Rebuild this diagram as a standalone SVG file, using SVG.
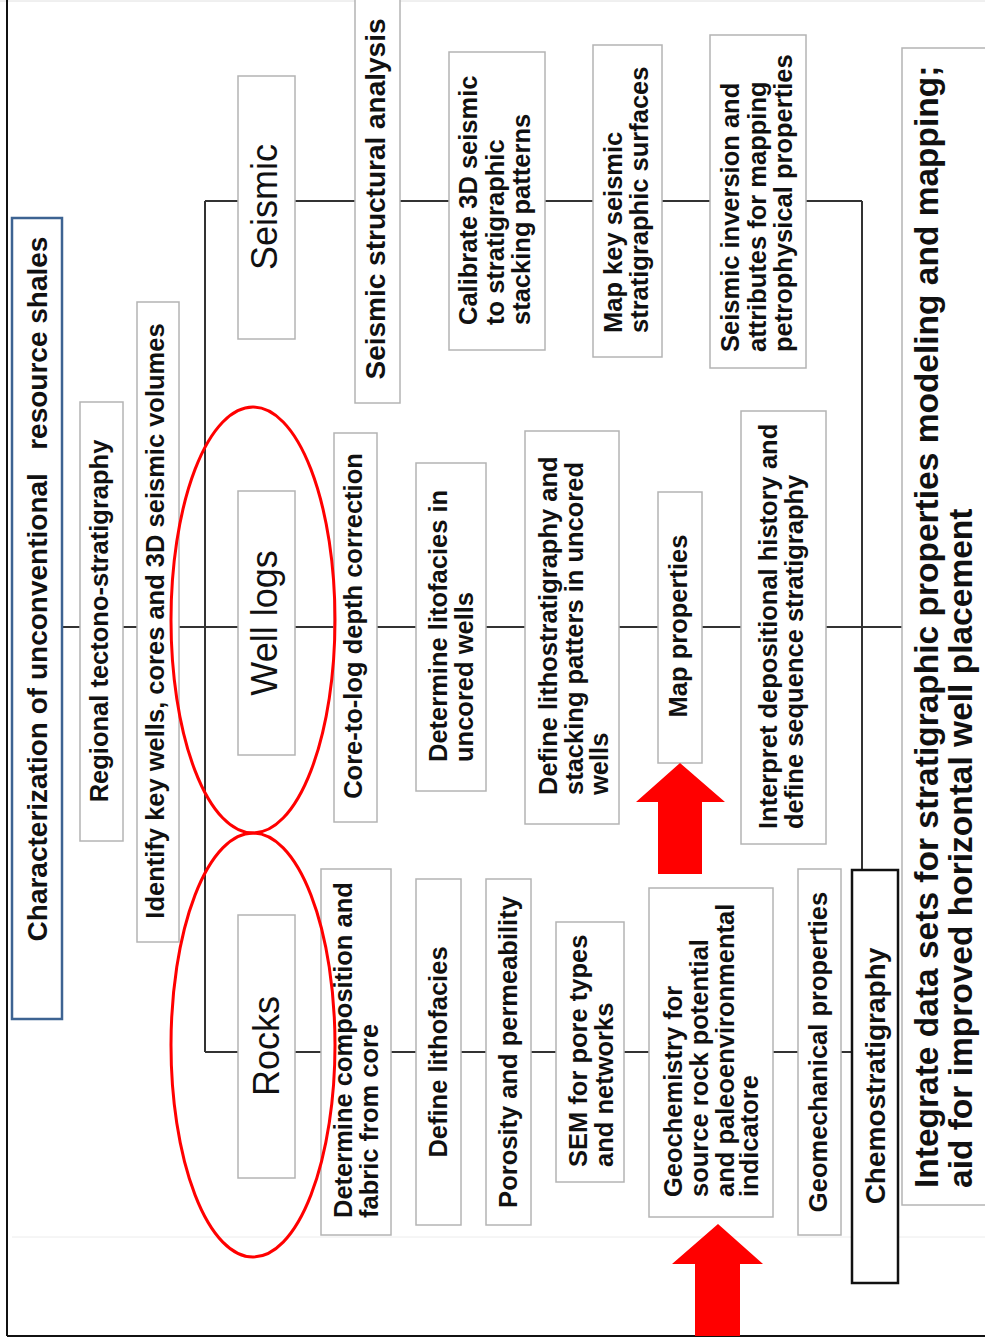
<svg xmlns="http://www.w3.org/2000/svg" width="985" height="1340" viewBox="0 0 985 1340">
<style>
.box{fill:#fff;stroke:#b4b4b4;stroke-width:1.5}
.t{font-family:"Liberation Sans",Arial,sans-serif;font-weight:bold;font-size:25.5px;fill:#111}
.m{text-anchor:middle}
.big{font-size:36px;font-weight:normal}
.conn{stroke:#333;stroke-width:2;fill:none}
.ell{fill:none;stroke:#f00;stroke-width:3}
.arrow{fill:#f00;stroke:none}
</style>
<rect x="0" y="0" width="985" height="1340" fill="#fff"/>
<g id="frame">
<line x1="0" y1="1" x2="985" y2="1" stroke="#e0e0e0" stroke-width="1"/>
<line x1="12" y1="1237" x2="985" y2="1237" stroke="#ececec" stroke-width="1"/>
<line x1="7" y1="0" x2="7" y2="1336" stroke="#111" stroke-width="2"/>
<line x1="7" y1="1336" x2="985" y2="1336" stroke="#111" stroke-width="2"/>
</g>
<g id="connectors">
<line class="conn" x1="62" y1="627" x2="902" y2="627"/>
<line class="conn" x1="205" y1="201" x2="205" y2="1052"/>
<line class="conn" x1="205" y1="201" x2="862" y2="201"/>
<line class="conn" x1="862" y1="201" x2="862" y2="870"/>
<line class="conn" x1="205" y1="1052" x2="852" y2="1052"/>
</g>
<g id="title">
<rect x="12" y="218" width="50" height="801" fill="#fff" stroke="#3d6392" stroke-width="2.5"/>
<text class="t m" style="font-size:28px;white-space:pre" transform="translate(47,589) rotate(-90)">Characterization of unconventional   resource shales</text>
</g>
<g id="regional">
<rect class="box" x="80" y="402" width="43" height="439"/>
<text class="t m" transform="translate(108,621) rotate(-90)">Regional tectono-stratigraphy</text>
</g>
<g id="identify">
<rect class="box" x="137" y="302" width="42" height="640"/>
<text class="t m" transform="translate(164,621) rotate(-90)">Identify key wells, cores and 3D seismic volumes</text>
</g>
<g id="seismic">
<rect class="box" x="238" y="76" width="57" height="263"/>
<text class="t m big" transform="translate(277,207) rotate(-90)">Seismic</text>
</g>
<g id="welllogs">
<rect class="box" x="238" y="491" width="57" height="264"/>
<text class="t m big" transform="translate(277,623) rotate(-90)">Well logs</text>
</g>
<g id="rocks">
<rect class="box" x="238" y="915" width="57" height="263"/>
<text class="t m big" transform="translate(279,1046) rotate(-90)">Rocks</text>
</g>
<g id="seismic-structural">
<rect class="box" x="355" y="-2" width="45" height="405"/>
<text class="t m" style="font-size:28px" transform="translate(385,199) rotate(-90)">Seismic structural analysis</text>
</g>
<g id="calibrate">
<rect class="box" x="449" y="52" width="96" height="298"/>
<text class="t" transform="translate(477,325) rotate(-90)"><tspan x="0" y="0">Calibrate 3D seismic</tspan><tspan x="0" y="26.5">to stratigraphic</tspan><tspan x="0" y="53">stacking patterns</tspan></text>
</g>
<g id="mapkey">
<rect class="box" x="593" y="45" width="69" height="312"/>
<text class="t" transform="translate(622,333) rotate(-90)"><tspan x="0" y="0">Map key seismic</tspan><tspan x="0" y="26">stratigraphic surfaces</tspan></text>
</g>
<g id="inversion">
<rect class="box" x="710" y="35" width="96" height="333"/>
<text class="t" transform="translate(739,352) rotate(-90)"><tspan x="0" y="0">Seismic inversion and</tspan><tspan x="0" y="26.5">attributes for mapping</tspan><tspan x="0" y="53">petrophysical properties</tspan></text>
</g>
<g id="coretolog">
<rect class="box" x="334" y="433" width="43" height="389"/>
<text class="t m" transform="translate(362,626) rotate(-90)">Core-to-log depth correction</text>
</g>
<g id="litofacies">
<rect class="box" x="416" y="463" width="70" height="328"/>
<text class="t" transform="translate(447,762) rotate(-90)"><tspan x="0" y="0">Determine litofacies in</tspan><tspan x="0" y="26">uncored wells</tspan></text>
</g>
<g id="lithostrat">
<rect class="box" x="525" y="431" width="94" height="393"/>
<text class="t" transform="translate(557,795) rotate(-90)"><tspan x="0" y="0">Define lithostratigraphy and</tspan><tspan x="0" y="25.5">stacking patters in uncored</tspan><tspan x="0" y="51">wells</tspan></text>
</g>
<g id="mapprops">
<rect class="box" x="658" y="492" width="44" height="271"/>
<text class="t m" transform="translate(687,626) rotate(-90)">Map properties</text>
</g>
<g id="interpret">
<rect class="box" x="741" y="411" width="85" height="433"/>
<text class="t" transform="translate(777,829) rotate(-90)"><tspan x="0" y="0">Interpret depositional history and</tspan><tspan x="0" y="26">define sequence stratigraphy</tspan></text>
</g>
<g id="composition">
<rect class="box" x="321" y="869" width="70" height="366"/>
<text class="t" transform="translate(352,1218) rotate(-90)"><tspan x="0" y="0">Determine composition and</tspan><tspan x="0" y="26">fabric from core</tspan></text>
</g>
<g id="lithofacies">
<rect class="box" x="416" y="879" width="45" height="346"/>
<text class="t m" transform="translate(447,1052) rotate(-90)">Define lithofacies</text>
</g>
<g id="porosity">
<rect class="box" x="486" y="879" width="45" height="346"/>
<text class="t m" transform="translate(517,1052) rotate(-90)">Porosity and permeability</text>
</g>
<g id="sem">
<rect class="box" x="556" y="922" width="68" height="260"/>
<text class="t" transform="translate(587,1167) rotate(-90)"><tspan x="0" y="0">SEM for pore types</tspan><tspan x="0" y="25.5">and networks</tspan></text>
</g>
<g id="geochem">
<rect class="box" x="649" y="888" width="124" height="329"/>
<text class="t" transform="translate(682,1197) rotate(-90)"><tspan x="0" y="0">Geochemistry for</tspan><tspan x="0" y="25.5">source rock potential</tspan><tspan x="0" y="51.5">and paleoenvironmental</tspan><tspan x="0" y="76">indicatore</tspan></text>
</g>
<g id="geomech">
<rect class="box" x="798" y="869" width="43" height="366"/>
<text class="t m" transform="translate(827,1052) rotate(-90)">Geomechanical properties</text>
</g>
<g id="chemo">
<rect x="852" y="870" width="46" height="413" fill="#fff" stroke="#111" stroke-width="2.5"/>
<text class="t m" style="font-size:28px" transform="translate(885,1076) rotate(-90)">Chemostratigraphy</text>
</g>
<g id="integrate">
<rect class="box" x="902" y="48" width="90" height="1157"/>
<text class="t" style="font-size:33.5px" transform="translate(938,1188) rotate(-90)"><tspan x="0" y="0">Integrate data sets for stratigraphic properties modeling and mapping;</tspan><tspan x="0" y="34">aid for improved horizontal well placement</tspan></text>
</g>
<g id="highlights">
<ellipse class="ell" cx="253" cy="620" rx="82" ry="213"/>
<ellipse class="ell" cx="253" cy="1045" rx="82" ry="212"/>
</g>
<g id="arrows">
<polygon class="arrow" points="680,763 725,802 702,802 702,874 658,874 658,802 636,802"/>
<polygon class="arrow" points="718,1224 763,1264 740,1264 740,1336 695,1336 695,1264 672,1264"/>
</g>
</svg>
